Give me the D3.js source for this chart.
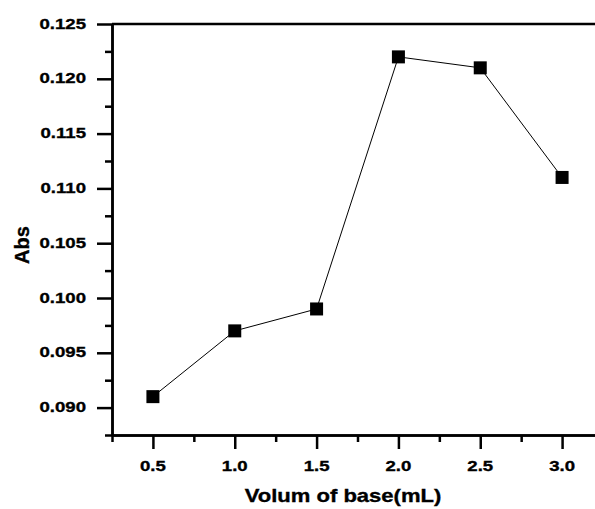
<!DOCTYPE html>
<html lang="en">
<head>
    <meta charset="UTF-8">
    <title>Abs vs volume of base</title>
    <script src="https://cdn.jsdelivr.net/npm/d3@7/dist/d3.min.js"></script>
    <style>
        * { box-sizing: border-box; padding: 0; margin: 0; border: 0; }
        body { background: #fff; }
        svg text { font-family: "Liberation Sans", Arial, sans-serif; font-weight: bold; fill: #000; stroke: #000; stroke-width: 0.35px; }
    </style>
</head>
<body>
    <svg width="595" height="509"></svg>
    <script>
        var volume = [0.5, 1.0, 1.5, 2.0, 2.5, 3.0];
        var abs = [0.091, 0.097, 0.099, 0.122, 0.121, 0.111];
        var xTicks = [0.5, 1.0, 1.5, 2.0, 2.5, 3.0];
        var xMinor = [0.25, 0.75, 1.25, 1.75, 2.25, 2.75, 3.25];
        var yTicks = [0.090, 0.095, 0.100, 0.105, 0.110, 0.115, 0.120, 0.125];
        var yMinor = [0.0875, 0.0925, 0.0975, 0.1025, 0.1075, 0.1125, 0.1175, 0.1225];

        var svg = d3.select("svg");

        var x = d3.scaleLinear().domain([0.25, 3.25]).range([112, 603]);
        var y = d3.scaleLinear().domain([0.0875, 0.125]).range([435, 24]);

        // axes: ticks only, labels drawn separately (stretched text)
        function styleAxis(g) {
            g.selectAll("path").attr("stroke", "#000").attr("stroke-width", 2.5);
            g.selectAll("line").attr("stroke", "#000").attr("stroke-width", 2.5);
        }

        svg.append("g").attr("transform", "translate(0," + y(0.0875) + ")")
            .call(d3.axisBottom(x).tickValues(xTicks).tickSize(14).tickSizeOuter(0).tickFormat(""))
            .call(styleAxis);
        svg.append("g").attr("transform", "translate(0," + y(0.0875) + ")")
            .call(d3.axisBottom(x).tickValues(xMinor).tickSize(7).tickSizeOuter(0).tickFormat(""))
            .call(styleAxis);
        svg.append("g").attr("transform", "translate(" + x(0.25) + ",0)")
            .call(d3.axisLeft(y).tickValues(yTicks).tickSize(15).tickSizeOuter(0).tickFormat(""))
            .call(styleAxis);
        svg.append("g").attr("transform", "translate(" + x(0.25) + ",0)")
            .call(d3.axisLeft(y).tickValues(yMinor).tickSize(7).tickSizeOuter(0).tickFormat(""))
            .call(styleAxis);

        // top frame line
        svg.append("line")
            .attr("x1", x(0.25)).attr("x2", x(3.25))
            .attr("y1", y(0.125)).attr("y2", y(0.125))
            .attr("stroke", "#000").attr("stroke-width", 2.5);

        // tick labels
        svg.selectAll(".xl").data(xTicks).enter().append("text")
            .attr("transform", function (d) { return "translate(" + x(d) + ",471) scale(1.2,1)"; })
            .attr("text-anchor", "middle")
            .style("font-size", "15.5px")
            .text(function (d) { return d3.format(".1f")(d); });

        svg.selectAll(".yl").data(yTicks).enter().append("text")
            .attr("transform", function (d) { return "translate(86," + (y(d) + 4.5) + ") scale(1.2,1)"; })
            .attr("text-anchor", "end")
            .style("font-size", "15.5px")
            .text(function (d) { return d3.format(".3f")(d); });

        // axis titles
        svg.append("text")
            .attr("transform", "translate(343,502) scale(1.16,1)")
            .attr("text-anchor", "middle")
            .style("font-size", "19px")
            .text("Volum of base(mL)");

        svg.append("text")
            .attr("transform", "translate(29,245) rotate(-90)")
            .attr("text-anchor", "middle")
            .style("font-size", "20px")
            .text("Abs");

        // data line + square markers
        var pts = volume.map(function (v, i) { return [v, abs[i]]; });
        svg.append("path")
            .datum(pts)
            .attr("fill", "none")
            .attr("stroke", "#000")
            .attr("stroke-width", 1)
            .attr("d", d3.line().x(function (d) { return x(d[0]); }).y(function (d) { return y(d[1]); }));

        var s = 13;
        svg.selectAll(".pt").data(pts).enter().append("rect")
            .attr("x", function (d) { return x(d[0]) - s / 2; })
            .attr("y", function (d) { return y(d[1]) - s / 2; })
            .attr("width", s).attr("height", s)
            .attr("fill", "#000");
    </script>
</body>
</html>
